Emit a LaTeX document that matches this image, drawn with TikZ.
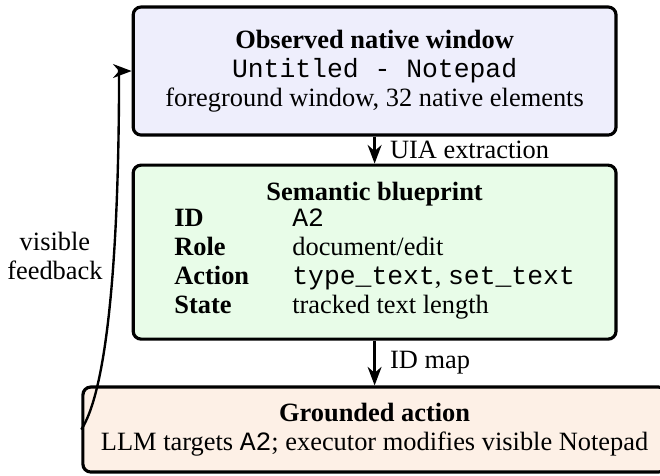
\documentclass[tikz,border=0pt]{standalone}
\usepackage{fontspec}
\setmainfont{Liberation Serif}
\setmonofont{Liberation Mono}
\usepackage{tikz}
\usetikzlibrary{arrows.meta}
\definecolor{obsfill}{RGB}{238,238,252}
\definecolor{semfill}{RGB}{232,252,232}
\definecolor{grdfill}{RGB}{253,240,230}
\tikzset{%
  block/.style = {draw, line width=1.2pt, rectangle, rounded corners=3pt,
    align=center, inner sep=4pt},
  flow/.style  = {line width=0.9pt, -{Stealth}}, % connector
  lbl/.style   = {inner sep=5.4pt} % arrow label
}

\begin{document}
\begin{tikzpicture}[auto, font=\fontsize{10}{11}\selectfont]
\useasboundingbox (0,0) rectangle (250pt,-180.3pt);
\draw
    node at(141.9pt,-26.9pt)[block,fill=obsfill,minimum width=182.9pt,
      minimum height=48.5pt,name=observed]
      {\textbf{Observed native window}\\ \texttt{Untitled - Notepad}\\
       foreground window, 32 native elements}

    node at(141.9pt,-95.5pt)[block,fill=semfill,minimum width=182.9pt,
      minimum height=65.9pt,name=blueprint]
      {\textbf{Semantic blueprint}\\[-1pt]
       \begin{tabular}[t]{@{}p{44.7pt}@{}l@{}}
         \textbf{ID}     & \texttt{A2}\\
         \textbf{Role}   & document/edit\\
         \textbf{Action} & \texttt{type\_text}, \texttt{set\_text}\\
         \textbf{State}  & tracked text length
       \end{tabular}}

    node at(141.9pt,-162.7pt)[block,fill=grdfill,minimum width=221pt,
      minimum height=32.2pt,name=grounded]
      {\textbf{Grounded action}\\
       LLM targets \texttt{A2}; executor modifies visible Notepad}

    node at(20.8pt,-97pt)[align=center,name=fbnote]{visible\\feedback}
;
    \coordinate (fbtop) at (45.1pt,-26.9pt);

    \draw[flow](observed) -- node[lbl]{UIA extraction} (blueprint);
    \draw[flow](blueprint) -- node[lbl]{ID map} (grounded);
    \draw[flow](grounded.west) .. controls +(9.1pt,14pt) and +(0,-75.8pt)
      .. (fbtop) -- (observed.west);
\end{tikzpicture}
\end{document}
